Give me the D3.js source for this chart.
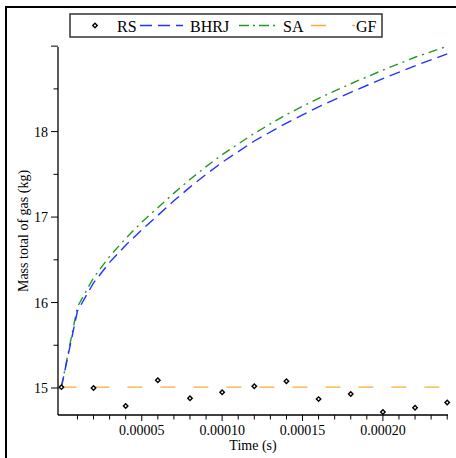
<!DOCTYPE html>
<html><head><meta charset="utf-8">
<script src="https://cdn.jsdelivr.net/npm/d3@7"></script>
<style>body{margin:0;background:#fff;} svg{display:block;}</style>
</head><body>
<svg id="c" width="456" height="458"></svg>
<script>
const rsTime = [0,0.00002,0.00004,0.00006,0.00008,0.00010,0.00012,0.00014,0.00016,0.00018,0.00020,0.00022,0.00024];
const rsMass = [15.01,15.00,14.79,15.09,14.88,14.95,15.02,15.08,14.87,14.93,14.72,14.77,14.83];
const curveTime = [0,0.00001,0.00002,0.00003,0.00004,0.00005,0.00006,0.00007,0.00008,0.00009,0.00010,0.00012,0.00014,0.00016,0.00018,0.00020,0.00022,0.00024];
const bhrjMass = [15.01,15.90,16.23,16.47,16.67,16.85,17.02,17.19,17.35,17.50,17.64,17.89,18.10,18.29,18.46,18.62,18.77,18.91];
const saMass   = [15.01,15.95,16.29,16.54,16.75,16.94,17.11,17.28,17.44,17.59,17.73,17.98,18.20,18.39,18.56,18.72,18.87,19.00];
const gfTime = [0,0.00024];
const gfMass = [15.01,15.01];
const xTicks = [0.00005,0.00010,0.00015,0.00020];
const xTickLabels = ["0.00005","0.00010","0.00015","0.00020"];
const yTicks = [15,16,17,18];
const legendNames = ["RS","BHRJ","SA","GF"];

const FONT = '"Liberation Serif"';
const svg = d3.select("#c");
const x = d3.scaleLinear().domain([-0.0000021,0.0002405]).range([58,448]);
const y = d3.scaleLinear().domain([14.684,18.99]).range([415,47]);

function txt(parent){
  return parent.append("text").style("font-family",FONT);
}

// outer border
svg.append("rect").attr("x",6).attr("y",7).attr("width",470).attr("height",470)
  .attr("fill","none").attr("stroke","#000").attr("stroke-width",2);

// axes
const xMinor = d3.range(1,25).map(i=>i*0.00001);
const gx = svg.append("g").attr("transform","translate(0,415)");
gx.append("line").attr("x1",58).attr("x2",448).attr("stroke","#000").attr("stroke-width",1.3);
gx.selectAll("line.mn").data(xMinor).enter().append("line").attr("class","mn")
  .attr("x1",d=>x(d)).attr("x2",d=>x(d)).attr("y1",0).attr("y2",d=>xTicks.some(t=>Math.abs(t-d)<1e-9)?6:4.5)
  .attr("stroke","#000").attr("stroke-width",1);
xTicks.forEach((d,i)=>{
  txt(gx).attr("x",x(d)).attr("y",20).attr("text-anchor","middle").attr("font-size",14).text(xTickLabels[i]);
});

const yMinor = d3.range(15,19.01,0.5);
const gy = svg.append("g").attr("transform","translate(58,0)");
gy.append("line").attr("y1",47).attr("y2",415).attr("stroke","#000").attr("stroke-width",1.3);
gy.selectAll("line.mn").data(yMinor).enter().append("line").attr("class","mn")
  .attr("y1",d=>y(d)).attr("y2",d=>y(d)).attr("x1",0).attr("x2",d=>Number.isInteger(d)?-7:-4.5)
  .attr("stroke","#000").attr("stroke-width",1);
yTicks.forEach(d=>{
  txt(gy).attr("x",-10).attr("y",y(d)+5).attr("text-anchor","end").attr("font-size",14).text(d);
});

// axis titles
txt(svg).attr("x",253).attr("y",450).attr("text-anchor","middle").attr("font-size",14).text("Time (s)");
txt(svg).attr("transform","translate(28,231) rotate(-90)").attr("text-anchor","middle")
  .attr("font-size",14).text("Mass total of gas (kg)");

const styles = {
  BHRJ:{color:"#2233ff",dash:"11,6"},
  SA:{color:"#229922",dash:"9,5,2,5"},
  GF:{color:"#ffaa33",dash:"15,18"}
};
const line = d3.line().x(d=>x(d[0])).y(d=>y(d[1]));
function drawLine(ts,vs,st){
  svg.append("path").datum(ts.map((t,i)=>[t,vs[i]])).attr("d",line)
    .attr("fill","none").attr("stroke",st.color).attr("stroke-width",1.4)
    .attr("stroke-dasharray",st.dash);
}
drawLine(gfTime,gfMass,styles.GF);
drawLine(curveTime,saMass,styles.SA);
drawLine(curveTime,bhrjMass,styles.BHRJ);

const diamond = d3.symbol().type(d3.symbolSquare).size(10);
svg.selectAll("path.rs").data(rsTime.map((t,i)=>[t,rsMass[i]])).enter().append("path").attr("class","rs")
  .attr("d",diamond).attr("transform",d=>`translate(${x(d[0])},${y(d[1])}) rotate(45)`)
  .attr("fill","#fff").attr("stroke","#000").attr("stroke-width",1.4);

// legend
const lg = svg.append("g");
lg.append("rect").attr("x",70).attr("y",14).attr("width",312).attr("height",23)
  .attr("fill","#fff").attr("stroke","#333").attr("stroke-width",1.5);
lg.append("path").attr("d",diamond).attr("transform","translate(95,25.5) rotate(45)")
  .attr("fill","#fff").attr("stroke","#000").attr("stroke-width",1.4);
const lgText = [117,190,283,356];
const lgLine = [null,[140,183],[239,277],[311,355]];
legendNames.forEach((n,i)=>{
  txt(lg).attr("x",lgText[i]).attr("y",31.5).attr("font-size",16).text(n);
  if(lgLine[i]){
    const st = styles[n];
    lg.append("line").attr("x1",lgLine[i][0]).attr("x2",lgLine[i][1]).attr("y1",25.5).attr("y2",25.5)
      .attr("stroke",st.color).attr("stroke-width",1.4)
      .attr("stroke-dasharray", n==="GF" ? "15,26" : (n==="BHRJ" ? "12,6":"10,4,2,4"));
  }
});
</script>
</body></html>
